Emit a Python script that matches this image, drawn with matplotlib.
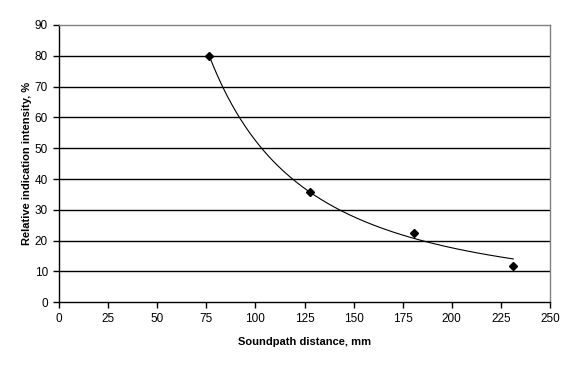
import numpy as np
import matplotlib

matplotlib.use("Agg")

import matplotlib.pyplot as plt

distance_mm = [76.4, 128.0, 180.5, 231.3]
intensity_pct = [80.0, 35.7, 22.6, 11.9]

x_ticks = [0, 25, 50, 75, 100, 125, 150, 175, 200, 225, 250]
y_ticks = [0, 10, 20, 30, 40, 50, 60, 70, 80, 90]


def power_fit(x, y):
    # least squares fit of y = a * x**b in linear space (grid over b)
    x = np.asarray(x)
    y = np.asarray(y)
    best = None
    for b in np.linspace(-3, -0.5, 2501):
        xb = x ** b
        a = np.sum(y * xb) / np.sum(xb * xb)
        err = np.sum((a * xb - y) ** 2)
        if best is None or err < best[0]:
            best = (err, a, b)
    return best[1], best[2]


def main():
    plt.rcParams["font.family"] = ["Liberation Sans", "DejaVu Sans"]
    fig = plt.figure(figsize=(5.77, 3.67), dpi=100)
    ax = fig.add_axes([0.1023, 0.1763, 0.8509, 0.7556])

    a, b = power_fit(distance_mm, intensity_pct)
    xs = np.linspace(min(distance_mm), max(distance_mm), 200)
    ax.plot(xs, a * xs ** b, color="black", linewidth=0.8, zorder=3)

    ax.plot(distance_mm, intensity_pct, linestyle="none", marker="D",
            markersize=4.5, color="black", zorder=4)

    ax.set_xlim(0, 250)
    ax.set_ylim(0, 90)
    ax.set_xticks(x_ticks)
    ax.set_yticks(y_ticks)
    ax.tick_params(direction="out", length=4, width=1, labelsize=8.5, colors="black", pad=4)

    for y in y_ticks[1:-1]:
        ax.axhline(y, color="black", linewidth=1.0, zorder=1)

    ax.spines["top"].set_color("#808080")
    ax.spines["right"].set_color("#808080")
    for s in ("left", "bottom"):
        ax.spines[s].set_color("black")
    for s in ax.spines.values():
        s.set_linewidth(1.0)

    ax.set_xlabel("Soundpath distance, mm", fontsize=8, fontweight="bold", labelpad=8)
    ax.set_ylabel("Relative indication intensity, %", fontsize=8, fontweight="bold", labelpad=2)

    fig.savefig("out.png", dpi=100)


if __name__ == "__main__":
    main()
